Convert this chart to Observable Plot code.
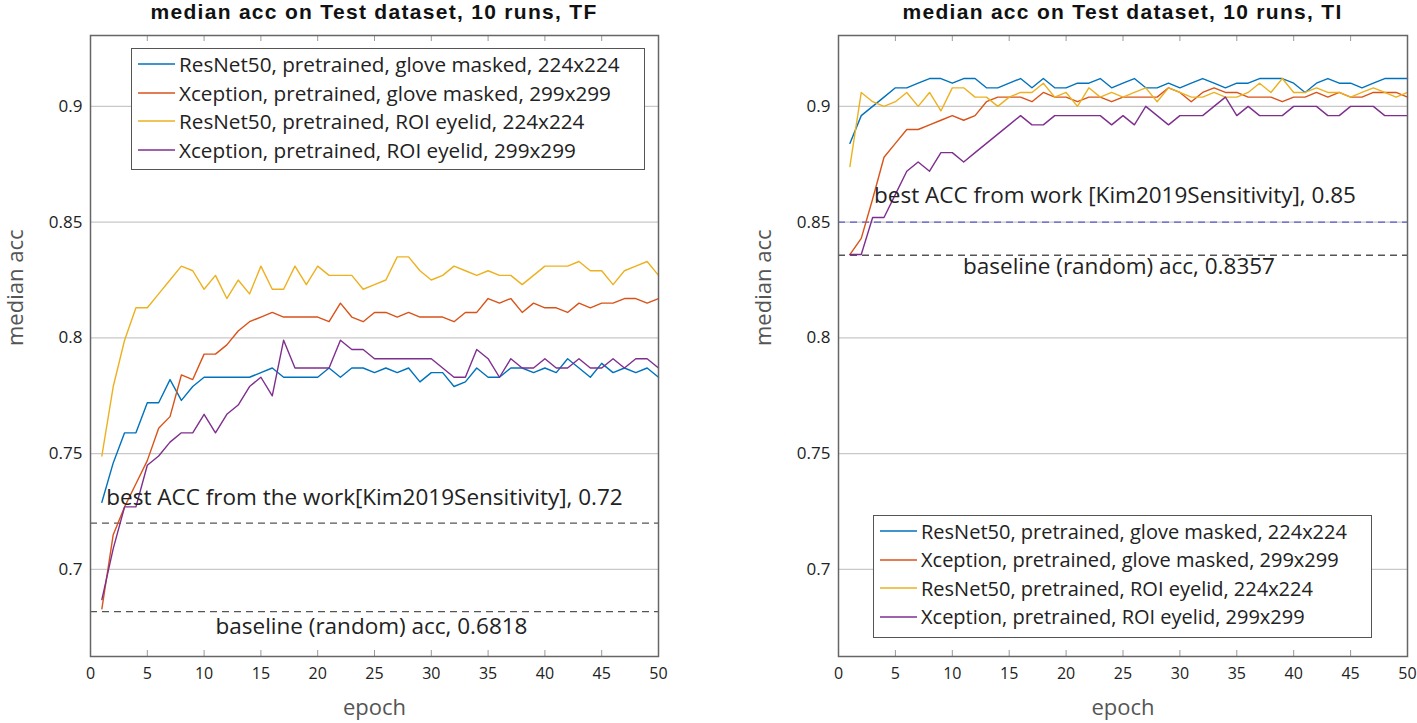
<!DOCTYPE html>
<html><head><meta charset="utf-8">
<script src="https://cdn.jsdelivr.net/npm/d3@7"></script>
<script src="https://cdn.jsdelivr.net/npm/@observablehq/plot@0.6"></script>
<style>
body{margin:0;background:#fff;font-family:"Open Sans",sans-serif;}
#wrap{position:relative;width:1417px;height:723px;overflow:hidden;background:#fff;}
.title{position:absolute;top:0;height:24px;line-height:24px;font-family:"Liberation Sans",Arial,sans-serif;font-weight:bold;font-size:21px;letter-spacing:1.3px;text-align:center;color:#111;white-space:nowrap;}
.panel{position:absolute;top:26px;}
.legend{position:absolute;border:1px solid #555;background:#fff;box-sizing:border-box;padding-top:1px;}
.row{height:28.5px;display:flex;align-items:center;color:#222;white-space:nowrap;}
.sw{display:block;margin:0 4px 0 6px;}
</style></head>
<body><div id="wrap"></div>
<script>
// ---------- data ----------
const epochs = [1,2,3,4,5,6,7,8,9,10,11,12,13,14,15,16,17,18,19,20,21,22,23,24,25,26,27,28,29,30,31,32,33,34,35,36,37,38,39,40,41,42,43,44,45,46,47,48,49,50];
const seriesNames = [
  "ResNet50, pretrained, glove masked, 224x224",
  "Xception, pretrained, glove masked, 299x299",
  "ResNet50, pretrained, ROI eyelid, 224x224",
  "Xception, pretrained, ROI eyelid, 299x299"
];
const seriesColors = ["#0072BD", "#D95319", "#EDB120", "#7E2F8E"];

// Panel TF
const tfResNetGlove = [0.729,0.746,0.759,0.759,0.772,0.772,0.782,0.773,0.779,0.783,0.783,0.783,0.783,0.783,0.785,0.787,0.783,0.783,0.783,0.783,0.787,0.783,0.787,0.787,0.785,0.787,0.785,0.787,0.781,0.785,0.785,0.779,0.781,0.787,0.783,0.783,0.787,0.787,0.785,0.787,0.785,0.791,0.787,0.783,0.789,0.785,0.787,0.785,0.787,0.783];
const tfXceptionGlove = [0.683,0.715,0.727,0.737,0.747,0.761,0.766,0.784,0.782,0.793,0.793,0.797,0.803,0.807,0.809,0.811,0.809,0.809,0.809,0.809,0.807,0.815,0.809,0.807,0.811,0.811,0.809,0.811,0.809,0.809,0.809,0.807,0.811,0.811,0.817,0.815,0.817,0.811,0.815,0.813,0.813,0.811,0.815,0.813,0.815,0.815,0.817,0.817,0.815,0.817];
const tfResNetROI = [0.749,0.779,0.799,0.813,0.813,0.819,0.825,0.831,0.829,0.821,0.827,0.817,0.825,0.819,0.831,0.821,0.821,0.831,0.823,0.831,0.827,0.827,0.827,0.821,0.823,0.825,0.835,0.835,0.829,0.825,0.827,0.831,0.829,0.827,0.829,0.827,0.827,0.823,0.827,0.831,0.831,0.831,0.833,0.829,0.829,0.823,0.829,0.831,0.833,0.827];
const tfXceptionROI = [0.687,0.709,0.727,0.727,0.745,0.749,0.755,0.759,0.759,0.767,0.759,0.767,0.771,0.779,0.783,0.775,0.799,0.787,0.787,0.787,0.787,0.799,0.795,0.795,0.791,0.791,0.791,0.791,0.791,0.791,0.787,0.783,0.783,0.795,0.791,0.783,0.791,0.787,0.787,0.791,0.787,0.787,0.791,0.787,0.787,0.791,0.787,0.791,0.791,0.787];
const tfRefValues = [0.72, 0.6818];
const tfRefLabels = ["best ACC from the work[Kim2019Sensitivity], 0.72", "baseline (random) acc, 0.6818"];

// Panel TI
const tiResNetGlove = [0.884,0.896,0.900,0.904,0.908,0.908,0.910,0.912,0.912,0.910,0.912,0.912,0.908,0.908,0.910,0.912,0.908,0.912,0.908,0.908,0.910,0.910,0.912,0.908,0.910,0.912,0.908,0.908,0.910,0.908,0.910,0.912,0.910,0.908,0.910,0.910,0.912,0.912,0.912,0.910,0.906,0.910,0.912,0.910,0.910,0.908,0.910,0.912,0.912,0.912];
const tiXceptionGlove = [0.836,0.843,0.860,0.878,0.884,0.890,0.890,0.892,0.894,0.896,0.894,0.896,0.902,0.904,0.904,0.904,0.902,0.906,0.904,0.904,0.902,0.904,0.904,0.902,0.904,0.904,0.904,0.904,0.908,0.906,0.902,0.906,0.908,0.906,0.906,0.904,0.904,0.904,0.902,0.904,0.904,0.906,0.904,0.906,0.904,0.904,0.906,0.906,0.906,0.904];
const tiResNetROI = [0.874,0.906,0.902,0.900,0.902,0.906,0.900,0.906,0.898,0.908,0.908,0.904,0.904,0.900,0.904,0.906,0.906,0.910,0.904,0.906,0.900,0.908,0.904,0.906,0.904,0.906,0.908,0.902,0.908,0.906,0.904,0.904,0.906,0.904,0.904,0.906,0.910,0.906,0.912,0.906,0.906,0.908,0.906,0.906,0.904,0.906,0.908,0.906,0.904,0.906];
const tiXceptionROI = [0.836,0.836,0.852,0.852,0.862,0.872,0.876,0.872,0.880,0.880,0.876,0.880,0.884,0.888,0.892,0.896,0.892,0.892,0.896,0.896,0.896,0.896,0.896,0.892,0.896,0.892,0.900,0.896,0.892,0.896,0.896,0.896,0.900,0.904,0.896,0.900,0.896,0.896,0.896,0.900,0.900,0.900,0.896,0.896,0.900,0.900,0.900,0.896,0.896,0.896];
const tiRefValues = [0.85, 0.8357];
const tiRefLabels = ["best ACC from work [Kim2019Sensitivity], 0.85", "baseline (random) acc, 0.8357"];

const xTicks = [0,5,10,15,20,25,30,35,40,45,50];
const yTicks = [0.7,0.75,0.8,0.85,0.9];
const titles = ["median acc on Test dataset, 10 runs, TF", "median acc on Test dataset, 10 runs, TI"];
const xLabel = "epoch";
const yLabel = "median acc";

// ---------- build ----------
function toRows(arrs){
  const rows = [];
  arrs.forEach((a, i) => a.forEach((v, j) => rows.push({epoch: epochs[j], acc: v, series: seriesNames[i]})));
  return rows;
}
const wrap = document.getElementById("wrap");
const H = 697, MT = 9, MB = 67;
const frameH = H - MT - MB;
const SVGNS = "http://www.w3.org/2000/svg";

function makePanel(cfg){
  const rows = toRows(cfg.series);
  const refRows = cfg.refValues.map((v, i) => ({v, label: cfg.refLabels[i], i}));
  const plot = Plot.plot({
    width: cfg.width, height: H,
    marginLeft: cfg.ml, marginRight: cfg.mr, marginTop: MT, marginBottom: MB,
    style: {fontFamily: "'Open Sans', sans-serif", fontSize: "16px", color: "#222", background: "transparent", overflow: "visible"},
    x: {domain: [0, 50]},
    y: {domain: [0.6624, 0.9306]},
    color: {domain: seriesNames, range: seriesColors},
    marks: [
      Plot.ruleY(yTicks, {stroke: "#c8c8c8", strokeWidth: 1.3}),
      Plot.tickX(xTicks, {x: d => d, insetTop: frameH - 6, stroke: "#999", strokeWidth: 1}),
      Plot.tickX(xTicks, {x: d => d, insetBottom: frameH - 6, stroke: "#999", strokeWidth: 1}),
      Plot.ruleY(refRows, {y: "v", stroke: d => cfg.refColors[d.i], strokeDasharray: "7,5", strokeWidth: 1.3}),
      Plot.lineY(rows, {x: "epoch", y: "acc", z: "series", stroke: "series", strokeWidth: 1.4}),
      Plot.text(refRows, {y: "v", text: "label", fontSize: 22.5, fill: "#222"}),
      Plot.frame({stroke: "#666", strokeWidth: 1.5}),
      Plot.axisX({ticks: xTicks, tickSize: 0, tickPadding: 11, label: null, fontSize: 16, fill: "#222"}),
      Plot.axisY({ticks: yTicks, tickSize: 0, tickPadding: 8, label: null, fontSize: 17, fill: "#222", tickFormat: d => String(d)}),
      Plot.text([yLabel], {frameAnchor: "left", dx: -75, rotate: -90, fontSize: 22, fill: "#555"}),
      Plot.text([xLabel], {frameAnchor: "bottom", dy: 58, fontSize: 22, fill: "#555"})
    ]
  });
  // offset annotation labels above/below their lines
  const texts = plot.querySelectorAll("g[aria-label='text']")[0];
  if (texts) {
    texts.querySelectorAll("text").forEach((t, i) => {
      t.setAttribute("transform", (t.getAttribute("transform") || "") + ` translate(${cfg.refDx[i]},${cfg.refOffsets[i]})`);
    });
  }
  const div = document.createElement("div");
  div.className = "panel";
  div.style.left = cfg.left + "px";
  div.appendChild(plot);
  wrap.appendChild(div);

  const t = document.createElement("div");
  t.className = "title";
  t.style.left = (cfg.left + cfg.ml) + "px";
  t.style.width = (cfg.width - cfg.ml - cfg.mr) + "px";
  t.textContent = cfg.title;
  wrap.appendChild(t);

  const lg = document.createElement("div");
  lg.className = "legend";
  lg.style.left = cfg.legend[0] + "px";
  lg.style.top = cfg.legend[1] + "px";
  lg.style.width = cfg.legend[2] + "px";
  lg.style.height = cfg.legend[3] + "px";
  seriesNames.forEach((n, i) => {
    const r = document.createElement("div");
    r.className = "row";
    r.style.fontSize = cfg.legendFont + "px";
    const s = document.createElementNS(SVGNS, "svg");
    s.setAttribute("class", "sw");
    s.setAttribute("width", 37); s.setAttribute("height", 4);
    const ln = document.createElementNS(SVGNS, "line");
    ln.setAttribute("x1", 0); ln.setAttribute("x2", 37);
    ln.setAttribute("y1", 2); ln.setAttribute("y2", 2);
    ln.setAttribute("stroke", seriesColors[i]); ln.setAttribute("stroke-width", 1.3);
    s.appendChild(ln);
    r.appendChild(s);
    r.appendChild(document.createTextNode(n));
    lg.appendChild(r);
  });
  wrap.appendChild(lg);
}

makePanel({
  left: 0, width: 700, ml: 90, mr: 42, title: titles[0],
  series: [tfResNetGlove, tfXceptionGlove, tfResNetROI, tfXceptionROI],
  refValues: tfRefValues, refLabels: tfRefLabels, refColors: ["#555", "#555"],
  refOffsets: [-25, 15], refDx: [-10, -3],
  legend: [131, 48, 514, 122], legendFont: 20.7
});
makePanel({
  left: 708, width: 709, ml: 130, mr: 10, title: titles[1],
  series: [tiResNetGlove, tiXceptionGlove, tiResNetROI, tiXceptionROI],
  refValues: tiRefValues, refLabels: tiRefLabels, refColors: ["#5a5ad2", "#555"],
  refOffsets: [-26, 12], refDx: [-8, -4],
  legend: [873, 515, 499, 123], legendFont: 20
});
</script></body></html>
